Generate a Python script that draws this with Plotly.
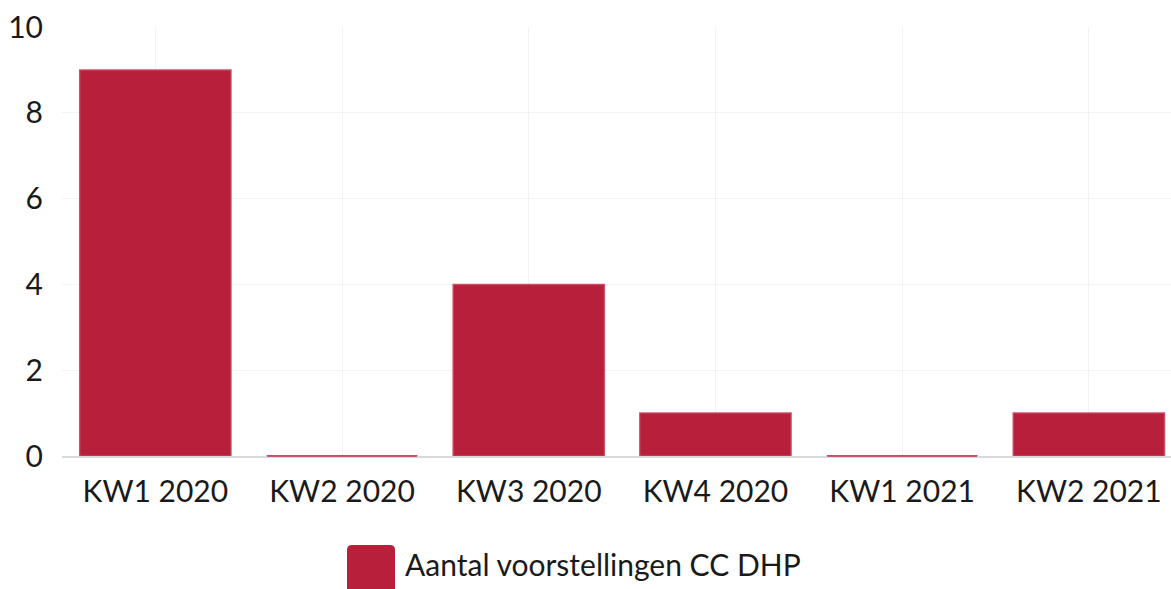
import plotly.graph_objects as go

categories = ["KW1 2020", "KW2 2020", "KW3 2020", "KW4 2020", "KW1 2021", "KW2 2021"]
values = [9, 0, 4, 1, 0, 1]
series_name = "Aantal voorstellingen CC DHP"
y_ticks = [0, 2, 4, 6, 8, 10]

BAR = "#b71f3a"
EDGE = "rgba(200,70,95,0.9)"
W, H = 1171, 589
L, R, T, B = 62, 0, 27, 133
pw, ph = W - L - R, H - T - B

fig = go.Figure()
fig.add_trace(go.Bar(
    x=categories, y=values, name=series_name,
    marker=dict(color=BAR, line=dict(color=EDGE, width=1.5)),
    width=0.81, showlegend=False,
))
# zero-valued bars show as a thin border line in the reference
zero_x = [c for c, v in zip(categories, values) if v == 0]
zero_y = [v for v in values if v == 0]
fig.add_trace(go.Scatter(
    x=zero_x, y=zero_y, mode="markers", showlegend=False, hoverinfo="skip",
    marker=dict(symbol="line-ew", size=107, line=dict(color=EDGE, width=2)),
    cliponaxis=False,
))

def px_x(x):
    return (x - L) / pw

def px_y(y):
    return (H - B - y) / ph

# legend swatch (rounded) drawn as a path in paper coords
x0, x1, y0, y1 = px_x(347), px_x(395), px_y(545), px_y(600)
rx, ry = 5 / pw, 5 / ph
path = (f"M {x0+rx},{y0} L {x1-rx},{y0} Q {x1},{y0} {x1},{y0-ry} "
        f"L {x1},{y1+ry} Q {x1},{y1} {x1-rx},{y1} L {x0+rx},{y1} "
        f"Q {x0},{y1} {x0},{y1+ry} L {x0},{y0-ry} Q {x0},{y0} {x0+rx},{y0} Z")
fig.add_shape(type="path", path=path, xref="paper", yref="paper",
              fillcolor=BAR, line=dict(width=0))
fig.add_annotation(text=series_name, xref="paper", yref="paper",
                   x=px_x(403), y=px_y(564), xanchor="left", yanchor="middle",
                   showarrow=False, font=dict(family="Lato", size=30, color="#1a1a1a"))

fig.update_layout(
    width=W, height=H,
    margin=dict(l=L, r=R, t=T, b=B, pad=0, autoexpand=False),
    paper_bgcolor="white", plot_bgcolor="white",
    font=dict(family="Lato", size=30, color="#1a1a1a"),
    bargap=0.19,
)
fig.update_xaxes(
    range=[-0.5, 5.44], showgrid=True, gridcolor="#f3f3f3", gridwidth=1,
    showline=True, linecolor="#d9d9d9", linewidth=2, layer="below traces",
    ticks="", tickfont=dict(size=30), ticklabelstandoff=8,
    automargin=False,
)
fig.update_yaxes(
    range=[0, 10], tickvals=y_ticks, showgrid=True, gridcolor="#f3f3f3",
    zeroline=False,
    ticks="", tickfont=dict(size=30), ticklabelstandoff=18, automargin=False,
)
fig.write_html(
    "out.html",
    config={"displayModeBar": False},
    post_script="document.body.style.margin='0px';document.body.style.overflow='hidden';",
)
